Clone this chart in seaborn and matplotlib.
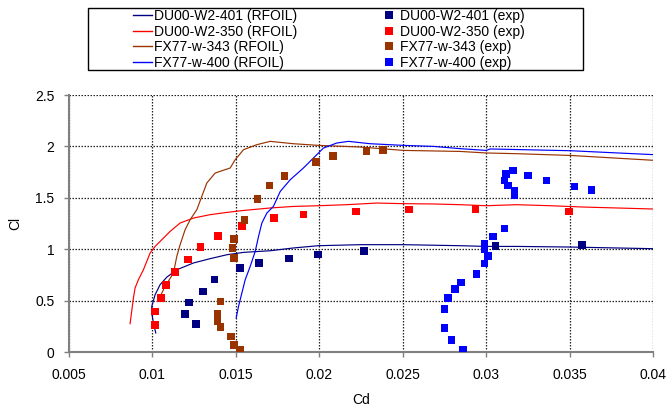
import numpy as np
import pandas as pd
import matplotlib
matplotlib.use("Agg")
import matplotlib.pyplot as plt
import seaborn as sns
from matplotlib.lines import Line2D
from matplotlib.patches import Rectangle

plt.rcParams['font.family'] = ['Liberation Sans', 'DejaVu Sans']
plt.rcParams['font.size'] = 10

# ---------------- data ----------------
du401_rf_cd = [0.0102, 0.01006, 0.00996, 0.00996, 0.01016, 0.01046, 0.01086, 0.01146, 0.01246, 0.01346,
               0.01446, 0.01546, 0.01706, 0.01845, 0.01995, 0.02245, 0.02505, 0.02845, 0.0300, 0.03185,
               0.03505, 0.0400]
du401_rf_cl = [0.185, 0.282, 0.379, 0.444, 0.557, 0.655, 0.728, 0.80, 0.866, 0.908,
               0.946, 0.969, 0.985, 1.012, 1.034, 1.044, 1.044, 1.034, 1.027, 1.027,
               1.021, 1.005]

du350_rf_cd = [0.00866, 0.00877, 0.00886, 0.00896, 0.00916, 0.00946, 0.00966, 0.00986, 0.01016, 0.01056,
               0.01106, 0.01166, 0.01246, 0.01346, 0.01446, 0.01546, 0.01706, 0.01845, 0.01995, 0.02165,
               0.02345, 0.02505, 0.02685, 0.02845, 0.0300, 0.03185, 0.03384, 0.03584, 0.03784, 0.0400]
du350_rf_cl = [0.275, 0.411, 0.525, 0.623, 0.703, 0.80, 0.881, 0.963, 1.027, 1.092,
               1.173, 1.255, 1.303, 1.336, 1.358, 1.377, 1.401, 1.416, 1.423, 1.433,
               1.449, 1.443, 1.44, 1.433, 1.423, 1.433, 1.423, 1.41, 1.401, 1.391]

fx343_rf_cd = [0.0104, 0.01076, 0.01126, 0.01146, 0.01166, 0.01196, 0.01226, 0.01266, 0.01296, 0.01326,
               0.01376, 0.01466, 0.01496, 0.01546, 0.01626, 0.01706, 0.01845, 0.01995, 0.02245, 0.02505,
               0.02845, 0.0300, 0.03185, 0.03505, 0.0400]
fx343_rf_cl = [0.52, 0.638, 0.768, 0.93, 1.044, 1.19, 1.287, 1.384, 1.514, 1.644,
               1.741, 1.79, 1.871, 1.968, 2.017, 2.049, 2.026, 2.01, 1.994, 1.961,
               1.951, 1.936, 1.929, 1.912, 1.865]

fx400_rf_cd = [0.01502, 0.01516, 0.01536, 0.01556, 0.01586, 0.01616, 0.01636, 0.01656, 0.01686, 0.01725,
               0.01766, 0.01826, 0.01905, 0.01965, 0.02025, 0.02105, 0.02175, 0.02305, 0.02505, 0.02685,
               0.02845, 0.0300, 0.03025, 0.03505, 0.0400]
fx400_rf_cl = [0.331, 0.444, 0.574, 0.703, 0.833, 0.979, 1.125, 1.255, 1.352, 1.416,
               1.562, 1.676, 1.79, 1.887, 1.984, 2.033, 2.049, 2.026, 2.01, 2.0,
               1.978, 1.961, 1.975, 1.958, 1.92]

du401_ex_cd = [0.01195, 0.0122, 0.01261, 0.01302, 0.01373, 0.01524, 0.0164, 0.01819, 0.01992, 0.02267,
               0.03056, 0.03576]
du401_ex_cl = [0.368, 0.48, 0.27, 0.59, 0.706, 0.82, 0.868, 0.91, 0.948, 0.98, 1.03, 1.04]

du350_ex_cd = [0.01014, 0.01014, 0.0105, 0.01083, 0.01134, 0.01213, 0.01287, 0.01394, 0.01536, 0.01727,
               0.01905, 0.02221, 0.02539, 0.02937, 0.03497]
du350_ex_cl = [0.261, 0.394, 0.523, 0.652, 0.777, 0.9, 1.023, 1.129, 1.226, 1.306,
               1.339, 1.368, 1.387, 1.39, 1.368]

fx343_ex_cd = [0.01524, 0.0149, 0.0147, 0.01409, 0.01391, 0.01391, 0.01409, 0.0149, 0.0148, 0.0149,
               0.01552, 0.0163, 0.01702, 0.01791, 0.01979, 0.02081, 0.02282, 0.02381]
fx343_ex_cl = [0.023, 0.071, 0.152, 0.242, 0.30, 0.368, 0.49, 0.913, 1.013, 1.10,
               1.287, 1.487, 1.619, 1.713, 1.848, 1.906, 1.958, 1.965]

fx400_ex_cd = [0.0286, 0.02792, 0.02751, 0.02751, 0.02771, 0.02812, 0.0285, 0.02942, 0.0299, 0.0301,
               0.0299, 0.0299, 0.03041, 0.0311, 0.03171, 0.03171, 0.0313, 0.0311, 0.0312, 0.0316,
               0.0325, 0.03362, 0.0353, 0.03632]
fx400_ex_cl = [0.023, 0.119, 0.232, 0.419, 0.523, 0.61, 0.677, 0.758, 0.861, 0.932,
               1.0, 1.055, 1.123, 1.2, 1.529, 1.571, 1.619, 1.668, 1.732, 1.765,
               1.716, 1.668, 1.61, 1.577]

line_names = ["DU00-W2-401 (RFOIL)", "DU00-W2-350 (RFOIL)", "FX77-w-343 (RFOIL)", "FX77-w-400 (RFOIL)"]
exp_names = ["DU00-W2-401 (exp)", "DU00-W2-350 (exp)", "FX77-w-343 (exp)", "FX77-w-400 (exp)"]
line_colors = ["#000080", "#FF0000", "#993300", "#0000FF"]
exp_colors = ["#000080", "#FF0000", "#993300", "#0000FF"]

x_ticks = [0.005, 0.01, 0.015, 0.02, 0.025, 0.03, 0.035, 0.04]
x_labels = ["0.005", "0.01", "0.015", "0.02", "0.025", "0.03", "0.035", "0.04"]
y_ticks = [0, 0.5, 1, 1.5, 2, 2.5]
y_labels = ["0", "0.5", "1", "1.5", "2", "2.5"]

# ---------------- frames ----------------
line_sets = [(du401_rf_cd, du401_rf_cl), (du350_rf_cd, du350_rf_cl),
             (fx343_rf_cd, fx343_rf_cl), (fx400_rf_cd, fx400_rf_cl)]
exp_sets = [(du401_ex_cd, du401_ex_cl), (du350_ex_cd, du350_ex_cl),
            (fx343_ex_cd, fx343_ex_cl), (fx400_ex_cd, fx400_ex_cl)]

df_lines = pd.concat([pd.DataFrame({"Cd": cd, "Cl": cl, "series": n})
                      for (cd, cl), n in zip(line_sets, line_names)], ignore_index=True)
df_exp = pd.concat([pd.DataFrame({"Cd": cd, "Cl": cl, "series": n})
                    for (cd, cl), n in zip(exp_sets, exp_names)], ignore_index=True)

# ---------------- figure ----------------
fig = plt.figure(figsize=(6.67, 4.07), dpi=100)
ax = fig.add_axes([69 / 667, 1 - 352 / 407, (653 - 69) / 667, (352 - 95) / 407])

sns.lineplot(data=df_lines, x="Cd", y="Cl", hue="series", hue_order=line_names,
             palette=line_colors, sort=False, estimator=None, units="series",
             linewidth=0.85, legend=False, ax=ax)
sns.scatterplot(data=df_exp, x="Cd", y="Cl", hue="series", hue_order=exp_names,
                palette=exp_colors, marker="s", s=30, linewidth=0, legend=False, ax=ax, zorder=3)

ax.set_xlim(0.005, 0.04)
ax.set_ylim(0, 2.5)
ax.set_xticks(x_ticks)
ax.set_xticklabels(x_labels)
ax.set_yticks(y_ticks)
ax.set_yticklabels(y_labels)
ax.tick_params(axis="both", direction="out", length=3.5, width=1, color="#808080",
               labelsize=10, colors="black")
ax.tick_params(axis="x", pad=8)
ax.tick_params(axis="y", pad=7)
ax.grid(True, color="#222222", linestyle=(0, (1.2, 1.2)), linewidth=0.9)
ax.set_axisbelow(True)
for side in ["top", "right"]:
    ax.spines[side].set_visible(False)
for side in ["left", "bottom"]:
    ax.spines[side].set_color("#808080")
    ax.spines[side].set_linewidth(1.5)

ax.set_xlabel("Cd", fontsize=10, labelpad=8)
ax.set_ylabel("Cl", fontsize=10, labelpad=9)

# ---------------- legend ----------------
handles = [Line2D([0], [0], color=c, lw=1.0) for c in line_colors] + \
          [Line2D([0], [0], color=c, marker="s", linestyle="none", markersize=6, markeredgewidth=0)
           for c in exp_colors]
labels = line_names + exp_names
fig.add_artist(Rectangle((88 / 667, 1 - 70 / 407), (583 - 88) / 667, (70 - 8) / 407,
                         transform=fig.transFigure, fill=False, edgecolor="black", linewidth=1))
fig.legend(handles, labels, ncol=2, loc="upper left",
           bbox_to_anchor=(133 / 667, 1 - 9 / 407), frameon=False, fontsize=10,
           handlelength=1.4, handletextpad=0.1, columnspacing=5.9, labelspacing=0.12,
           borderpad=0, borderaxespad=0)

fig.savefig("out.png", dpi=100)
